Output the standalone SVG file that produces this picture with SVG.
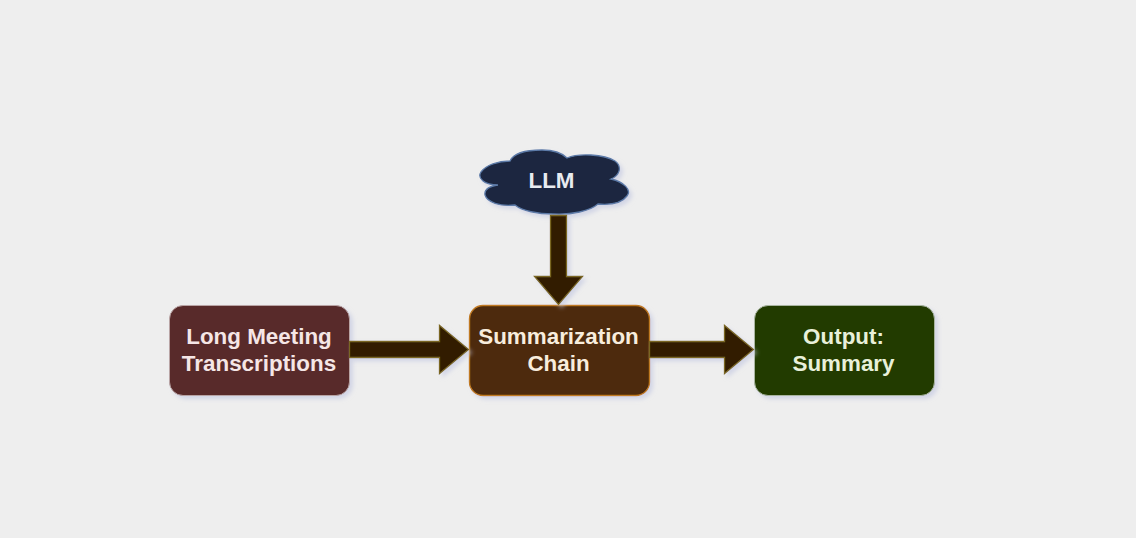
<svg xmlns="http://www.w3.org/2000/svg" width="1136" height="538" viewBox="0 0 1136 538">
<style>
text{font-family:"Liberation Sans",Arial,sans-serif;font-size:22.4px;font-weight:700;text-anchor:middle}
.shadow{filter:url(#ds)}
.arrow{fill:#331f00;stroke:#7a6622;stroke-width:1.3;stroke-linejoin:miter}
</style>
<defs>
<filter id="ds" x="-20%" y="-20%" width="150%" height="150%">
<feDropShadow dx="3" dy="3" stdDeviation="2" flood-color="#c0c5e0" flood-opacity=".6"/>
</filter>
</defs>
<rect width="1136" height="538" fill="#eeeeee"/>
<g id="node-input">
<rect class="shadow" x="169.5" y="305.5" width="180" height="90" rx="13.5" fill="#582a2a" stroke="#b9a4a4" stroke-width="1"/>
<text fill="#f5e6e6" x="259" y="343.5">Long Meeting</text>
<text fill="#f5e6e6" x="259" y="370.5">Transcriptions</text>
</g>
<g id="node-chain">
<rect class="shadow" x="469.5" y="305.5" width="180" height="90" rx="13.5" fill="#4d2b08" stroke="#c07a22" stroke-width="1.4"/>
<text fill="#f8eddd" x="558.5" y="343.5">Summarization</text>
<text fill="#f8eddd" x="558.5" y="370.5">Chain</text>
</g>
<g id="node-output">
<rect class="shadow" x="754.5" y="305.5" width="180" height="90" rx="13.5" fill="#213b00" stroke="#a9b5a0" stroke-width="1"/>
<text fill="#e8f0da" x="843.5" y="343.5">Output:</text>
<text fill="#e8f0da" x="843.5" y="370.5">Summary</text>
</g>
<g id="node-llm">
<path class="shadow" fill="#1b2740" stroke="#5c7aa8" stroke-width="1.3" d="M510 161C514 152 528 150 542 150C553 150 562 153 567 158C578 153 604 154 615 161C623 167 619 176 611 179C624 182 632 190 627 196C622 203 610 205 598 204C590 211 572 215 553 214C538 214 522 211 515 205C500 207 487 202 485 195C484 189 490 186 498 185C484 185 477 178 481 172C486 165 498 161 510 161Z"/>
<text fill="#e8ebf0" x="551.5" y="187.5">LLM</text>
</g>
<g id="connectors">
<path id="edge-llm-chain" class="arrow shadow" d="M550.5 215.5H566.5V276.5H582.5L558.5 304.5L534.5 276.5H550.5Z"/>
<path id="edge-input-chain" class="arrow shadow" d="M349.5 341.5H439.5V325.5L468.5 349.5L439.5 373.5V357.5H349.5Z"/>
<path id="edge-chain-output" class="arrow shadow" d="M649.5 341.5H724.5V325.5L753.5 349.5L724.5 373.5V357.5H649.5Z"/>
</g>
</svg>
